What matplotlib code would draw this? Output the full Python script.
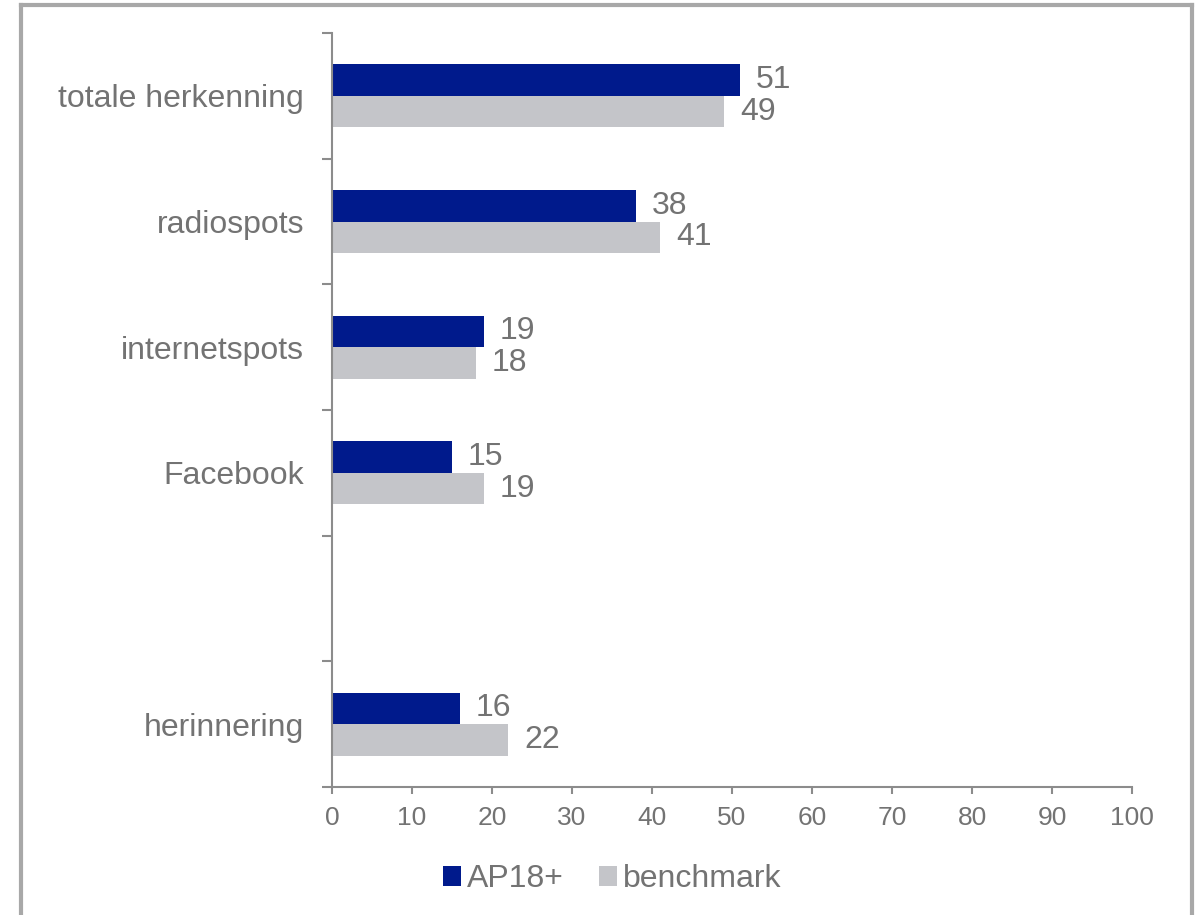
import numpy as np
import matplotlib.pyplot as plt
from matplotlib.patches import Patch
from matplotlib.lines import Line2D

plt.rcParams['font.family'] = ['Liberation Sans', 'DejaVu Sans']

# data (empty slot keeps the gap before 'herinnering')
categories = ['totale herkenning', 'radiospots', 'internetspots', 'Facebook', '', 'herinnering']
ap18 = [51, 38, 19, 15, None, 16]
benchmark = [49, 41, 18, 19, None, 22]
series_names = ['AP18+', 'benchmark']

blue = '#001A8C'
grey = '#C4C5C9'
text_grey = '#737373'
axis_grey = '#8C8C8C'

fig = plt.figure(figsize=(11.96, 9.15), dpi=100)
ax = fig.add_axes([0.2776, 0.1399, 0.6689, 0.8240])

pos = np.arange(len(categories))
h = 0.25
for i, (a, b) in enumerate(zip(ap18, benchmark)):
    if a is None:
        continue
    ax.barh(pos[i] - h / 2, a, height=h, color=blue)
    ax.barh(pos[i] + h / 2, b, height=h, color=grey)
    ax.text(a + 2, pos[i] - h / 2, str(a), va='center', ha='left',
            fontsize=23, color=text_grey)
    ax.text(b + 2, pos[i] + h / 2, str(b), va='center', ha='left',
            fontsize=23, color=text_grey)

ax.set_xlim(0, 100)
ax.set_ylim(len(categories) - 0.5, -0.5)
ax.set_xticks(range(0, 101, 10))
ax.set_yticks(pos)
ax.set_yticklabels(categories)
ax.set_yticks(np.arange(-0.5, len(categories)), minor=True)

for side in ['top', 'right']:
    ax.spines[side].set_visible(False)
for side in ['left', 'bottom']:
    ax.spines[side].set_color(axis_grey)
    ax.spines[side].set_linewidth(1.5)

ax.tick_params(axis='y', which='major', length=0, pad=20, labelsize=23,
               labelcolor=text_grey)
ax.tick_params(axis='y', which='minor', length=7.5, width=1.5, color=axis_grey,
               direction='out')
ax.tick_params(axis='x', length=5, width=1.5, color=axis_grey, pad=8.5,
               labelsize=19, labelcolor=text_grey)

handles = [Patch(facecolor=blue), Patch(facecolor=grey)]
fig.legend(handles, series_names, loc='center', bbox_to_anchor=(0.512, 0.039),
           ncol=2, frameon=False, fontsize=23, labelcolor=text_grey,
           handlelength=0.55, handleheight=0.55, handletextpad=0.2,
           columnspacing=1.1)

# frame around the chart area
border = dict(color='#A8A8A8', linewidth=3, transform=fig.transFigure)
fig.add_artist(Line2D([0.0175, 0.0175], [0.0, 0.9945], **border))
fig.add_artist(Line2D([0.0175, 0.9965], [0.9945, 0.9945], **border))
fig.add_artist(Line2D([0.9965, 0.9965], [0.0, 0.9945], **border))

fig.savefig('out.png', dpi=100)
